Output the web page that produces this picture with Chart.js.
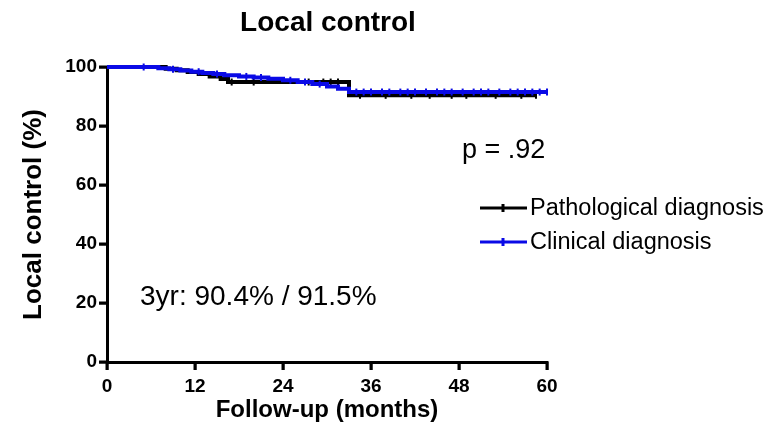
<!DOCTYPE html>
<html>
<head>
<meta charset="utf-8">
<script src="https://cdn.jsdelivr.net/npm/chart.js@4.4.1/dist/chart.umd.min.js"></script>
<style>
  html, body { margin: 0; padding: 0; background: #fff; }
  #wrap { width: 773px; height: 436px; }
</style>
</head>
<body>
<div id="wrap"><canvas id="km"></canvas></div>
<script>
// Kaplan-Meier step values (months, %)
const pathTimes = [0, 8, 9.5, 11, 12.5, 14, 15.5, 16.5, 33, 58.5];
const pathSurv  = [100, 99.4, 98.9, 98.3, 97.6, 96.8, 95.9, 94.9, 90.4, 90.4];
const clinTimes = [0, 7, 8.5, 10, 11.5, 13, 14.5, 16, 18, 20, 22, 24, 26, 28, 30, 31.5, 33, 60];
const clinSurv  = [100, 99.6, 99.2, 98.8, 98.4, 98.0, 97.6, 97.2, 96.8, 96.4, 96.0, 95.5, 94.9, 94.2, 93.4, 92.6, 91.5, 91.5];

// censored observations (months)
const pathCensor = [17, 20, 27.5, 29.5, 30.5, 31.5, 34.5, 38, 41.5, 44, 47, 49, 53, 56.5, 58.5];
const clinCensor = [5, 9, 12.5, 15, 19, 21, 25, 27, 29, 34, 35, 36, 37.5, 38.5, 40, 41, 42, 43.5, 45,
                    46, 47, 48.5, 50, 51, 52, 53.5, 55, 56, 57, 58, 59, 60];

const xTicks = [0, 12, 24, 36, 48, 60];
const yTicks = [0, 20, 40, 60, 80, 100];

const seriesNames = ["Pathological diagnosis", "Clinical diagnosis"];
const pathColor = "#000000";
const clinColor = "#0a0ae6";

const FONT = "'Liberation Sans', Arial, sans-serif";

// survival value at time t on a step curve
function survAt(times, surv, t) {
  let v = surv[0];
  for (let i = 0; i < times.length; i++) {
    if (times[i] <= t) v = surv[i];
  }
  return v;
}

const toXY = (times, vals) => times.map((t, i) => ({ x: t, y: vals[i] }));
const censorXY = (cens, times, surv) => cens.map(t => ({ x: t, y: survAt(times, surv, t) }));

function curve(data, color) {
  return {
    data: data, borderColor: color, backgroundColor: color, showLine: true,
    borderWidth: 4, stepped: true, pointRadius: 0, fill: false, clip: false
  };
}
function censors(data, color) {
  return {
    data: data, showLine: false, pointStyle: "line", rotation: 90,
    pointRadius: 3.5, borderColor: color, borderWidth: 2, clip: false
  };
}

// tick marks on the outside of both axes
const axisTicks = {
  id: "axisTicks",
  afterDraw(chart) {
    const ctx = chart.ctx;
    const sx = chart.scales.x, sy = chart.scales.y;
    const area = chart.chartArea;
    ctx.save();
    ctx.strokeStyle = "#000";
    ctx.lineWidth = 3;
    xTicks.forEach(v => {
      const px = sx.getPixelForValue(v);
      ctx.beginPath();
      ctx.moveTo(px, area.bottom);
      ctx.lineTo(px, area.bottom + 8);
      ctx.stroke();
    });
    yTicks.forEach(v => {
      const py = sy.getPixelForValue(v);
      ctx.beginPath();
      ctx.moveTo(area.left, py);
      ctx.lineTo(area.left - 8, py);
      ctx.stroke();
    });
    ctx.restore();
  }
};

// free text: title, p value, 3yr numbers, legend
const notes = {
  id: "notes",
  afterDraw(chart) {
    const ctx = chart.ctx;
    ctx.save();
    ctx.fillStyle = "#000";
    ctx.textBaseline = "middle";

    ctx.font = "bold 28px " + FONT;
    ctx.textAlign = "center";
    ctx.fillText("Local control", 328, 23);

    ctx.textAlign = "left";
    ctx.font = "27px " + FONT;
    ctx.fillText("p = .92", 462, 151);
    ctx.font = "28px " + FONT;
    ctx.fillText("3yr: 90.4% / 91.5%", 140, 297);

    ctx.font = "23.5px " + FONT;
    const rows = [[seriesNames[0], pathColor, 208], [seriesNames[1], clinColor, 242]];
    rows.forEach(([name, col, yy]) => {
      ctx.strokeStyle = col;
      ctx.lineWidth = 3;
      ctx.beginPath();
      ctx.moveTo(480, yy); ctx.lineTo(527, yy);
      ctx.moveTo(503, yy - 4); ctx.lineTo(503, yy + 4);
      ctx.stroke();
      ctx.fillStyle = "#000";
      ctx.fillText(name, 530, yy + 1);
    });
    ctx.restore();
  }
};

const axisGrid = { drawOnChartArea: false, drawTicks: true, tickLength: 8, color: "#000", lineWidth: 2.5 };

new Chart(document.getElementById("km"), {
  type: "scatter",
  data: {
    datasets: [
      censors(censorXY(clinCensor, clinTimes, clinSurv), clinColor),
      curve(toXY(clinTimes, clinSurv), clinColor),
      censors(censorXY(pathCensor, pathTimes, pathSurv), pathColor),
      curve(toXY(pathTimes, pathSurv), pathColor)
    ]
  },
  options: {
    responsive: true,
    maintainAspectRatio: false,
    animation: false,
    layout: { padding: { left: 0, top: 67, right: 226, bottom: 0 } },
    plugins: { legend: { display: false }, tooltip: { enabled: false } },
    scales: {
      x: {
        type: "linear", min: 0, max: 60,
        afterBuildTicks: s => { s.ticks = xTicks.map(v => ({ value: v })); },
        afterFit: s => { s.height = 74; },
        grid: axisGrid,
        border: { display: true, color: "#000", width: 3 },
        ticks: { color: "#000", padding: 5, font: { family: FONT, size: 19, weight: "bold" } },
        title: {
          display: true, text: "Follow-up (months)", color: "#000",
          font: { family: FONT, size: 24, weight: "bold" }, padding: { top: 0, bottom: 11 }
        }
      },
      y: {
        min: 0, max: 100,
        afterBuildTicks: s => { s.ticks = yTicks.map(v => ({ value: v })); },
        afterFit: s => { s.width = 107; },
        grid: axisGrid,
        border: { display: true, color: "#000", width: 3 },
        ticks: { color: "#000", padding: 2, font: { family: FONT, size: 19, weight: "bold" } },
        title: {
          display: true, text: "Local control (%)", color: "#000",
          font: { family: FONT, size: 26, weight: "bold" }, padding: { top: 18, bottom: 0 }
        }
      }
    }
  },
  plugins: [axisTicks, notes]
});
</script>
</body>
</html>
